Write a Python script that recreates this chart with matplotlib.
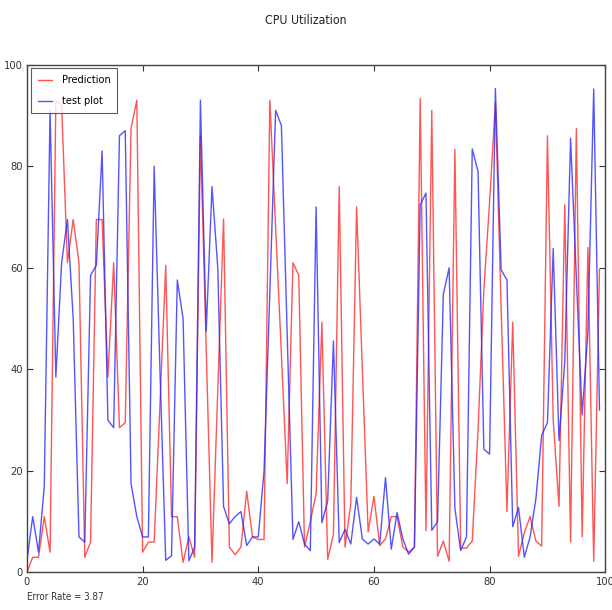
import matplotlib
matplotlib.use("Agg")
import matplotlib.pyplot as plt
from matplotlib import font_manager
import numpy as np

# pick the narrowest installed sans face available
names = {f.name for f in font_manager.fontManager.ttflist}
if 'Liberation Sans Narrow' in names:
    plt.rcParams['font.family'] = ['Liberation Sans Narrow', 'DejaVu Sans']
else:
    cond = [f for f in font_manager.fontManager.ttflist
            if 'Condensed' in f.fname or f.stretch in ('condensed', 'semi-condensed')]
    if cond:
        plt.rcParams['font.family'] = [cond[0].name, 'DejaVu Sans']
        plt.rcParams['font.stretch'] = cond[0].stretch
    else:
        plt.rcParams['font.family'] = ['Liberation Sans', 'DejaVu Sans']

x = list(range(100))

prediction = [
    0, 3, 3, 11, 4, 93, 92, 61, 69.5, 61,
    3, 6, 69.5, 69.5, 38.5, 61, 28.5, 29.5, 87.5, 93,
    4, 6, 6, 33, 60.5, 11, 11, 2, 7, 3,
    86, 44, 2, 36, 69.6, 5, 3.5, 5, 16, 7,
    6.5, 6.5, 93, 68, 43, 17.5, 61, 58.5, 5, 10,
    15.5, 49.3, 2.6, 7.5, 76, 5, 13.5, 72, 40, 8,
    15, 5.3, 6.6, 11, 11, 5, 4, 5, 93.3, 8.2,
    91, 3.2, 6.2, 2.2, 83.3, 4.8, 4.8, 6.2, 28, 55.5,
    73, 92.5, 52, 12, 49.3, 3.2, 7.8, 11, 6.2, 5.2,
    86, 30, 13, 72.4, 6, 87.4, 7, 64, 2.2, 59.6,
]

test_plot = [
    2.3, 11, 4, 17, 91, 38.5, 61, 69.5, 50, 7,
    6, 58.5, 60.5, 83, 30, 28.5, 86, 87, 17.5, 11,
    7, 7, 80, 40, 2.4, 3.3, 57.6, 50, 2.3, 5,
    93, 47.5, 76, 60, 13, 9.6, 11, 12, 5.3, 7,
    7, 20, 55, 91, 88, 47, 6.5, 10, 5.6, 4.3,
    72, 9.8, 14, 45.6, 5.9, 8.5, 5.6, 14.8, 6.6, 5.6,
    6.6, 5.6, 18.7, 4.6, 11.8, 6.6, 3.6, 5, 72.4, 74.7,
    8.3, 10, 54.8, 60, 12.6, 4.3, 7, 83.4, 79, 24.3,
    23.3, 95.3, 59.6, 57.6, 9, 12.8, 3, 7, 14.5, 27,
    29.5, 63.8, 26, 41.6, 85.5, 58, 31, 47.4, 95.2, 32,
]

ticks = [0, 20, 40, 60, 80, 100]
error_rate = 3.87

fig = plt.figure(figsize=(6.12, 6.10), dpi=100, facecolor='white')
ax = fig.add_axes([0.044, 0.0615, 0.945, 0.8325])

ax.plot(x, prediction, color='#ff2a2a', lw=1.0, alpha=0.8, label='Prediction')
ax.plot(x, test_plot, color='#2a2aff', lw=1.0, alpha=0.8, label='test plot')

ax.set_xlim(0, 100)
ax.set_ylim(0, 100)
ax.set_xticks(ticks)
ax.set_yticks(ticks)
ax.tick_params(direction='in', top=True, right=True, length=4, width=0.8,
               labelsize=8, colors='#333333', pad=3)
for s in ax.spines.values():
    s.set_color('#444444')
    s.set_linewidth(1.0)

leg = ax.legend(loc='upper left', fontsize=7.8, frameon=True, fancybox=False,
                handlelength=1.3, borderpad=0.65, labelspacing=1.0,
                handletextpad=0.9, borderaxespad=0.35)
leg.get_frame().set_edgecolor('#333333')
leg.get_frame().set_linewidth(0.8)

fig.text(0.5, 0.967, 'CPU Utilization', ha='center', va='center',
         fontsize=8.8, color='#222222')
fig.text(0.044, 0.021, 'Error Rate = %.2f' % error_rate, ha='left', va='center',
         fontsize=7, color='#333333')

fig.savefig('out.png', dpi=100, facecolor='white')
